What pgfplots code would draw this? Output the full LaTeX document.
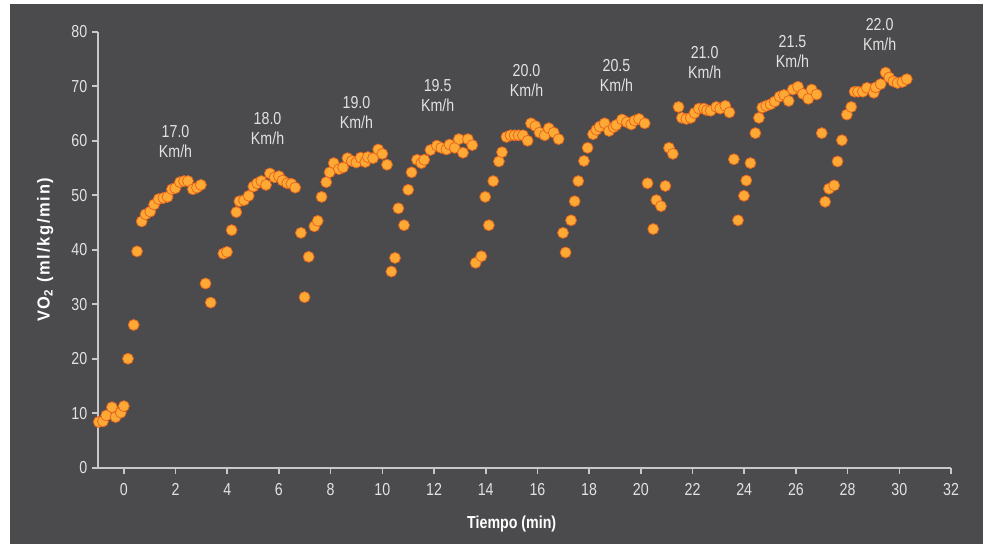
\documentclass[border=0pt]{standalone}
\usepackage{fontspec}
\setmainfont{Liberation Sans}[FakeStretch=0.82]
\newfontfamily\ylabfont{Liberation Sans}[FakeStretch=0.95, LetterSpace=10]
\usepackage{pgfplots}
\pgfplotsset{compat=1.18}

\definecolor{bg}{HTML}{4B4B4D}
\definecolor{axisgray}{HTML}{C8C8C8}
\definecolor{txt}{HTML}{E2E2E2}
\definecolor{dotfill}{HTML}{FCAA35}
\definecolor{dotedge}{HTML}{E8661E}

\pgfplotstableread{
t vo2
-0.97 8.4
-0.81 8.5
-0.68 9.6
-0.46 11.1
-0.32 9.3
-0.12 10.1
0.00 11.3
0.16 20.0
0.38 26.2
0.51 39.7
0.69 45.2
0.84 46.5
1.02 47.0
1.17 48.3
1.35 49.3
1.53 49.5
1.69 49.7
1.86 51.1
1.99 51.3
2.17 52.4
2.33 52.6
2.48 52.6
2.67 51.1
2.83 51.4
2.98 51.9
3.16 33.8
3.36 30.3
3.85 39.3
3.99 39.6
4.17 43.6
4.35 46.9
4.47 48.9
4.65 49.1
4.83 49.9
5.01 51.6
5.16 52.2
5.32 52.6
5.50 51.9
5.65 54.0
5.83 53.3
6.00 53.5
6.14 52.7
6.32 52.2
6.48 52.1
6.63 51.4
6.85 43.1
6.99 31.3
7.15 38.7
7.37 44.3
7.50 45.3
7.65 49.7
7.83 52.4
7.96 54.2
8.12 55.9
8.32 54.8
8.48 55.1
8.65 56.8
8.82 56.3
8.99 56.0
9.16 56.9
9.34 56.1
9.44 57.0
9.64 56.8
9.84 58.4
10.00 57.6
10.18 55.6
10.35 36.0
10.49 38.5
10.62 47.6
10.84 44.5
11.00 51.0
11.13 54.2
11.34 56.5
11.51 55.9
11.62 56.5
11.86 58.3
12.11 59.1
12.28 58.7
12.48 58.4
12.60 59.3
12.80 58.7
12.96 60.3
13.12 57.8
13.31 60.3
13.48 59.2
13.61 37.6
13.83 38.8
13.98 49.7
14.12 44.5
14.29 52.6
14.51 56.2
14.63 57.9
14.80 60.7
14.96 61.0
15.12 61.0
15.27 61.0
15.44 61.0
15.62 60.0
15.75 63.2
15.92 62.7
16.08 61.5
16.28 61.0
16.44 62.3
16.63 61.5
16.82 60.3
16.99 43.1
17.09 39.5
17.30 45.4
17.44 48.9
17.58 52.6
17.80 56.3
17.94 58.7
18.15 61.2
18.28 62.0
18.41 62.6
18.60 63.2
18.77 61.8
18.95 62.5
19.05 62.9
19.27 63.9
19.46 63.4
19.63 63.0
19.76 63.7
19.93 64.0
20.15 63.2
20.26 52.2
20.48 43.8
20.60 49.1
20.78 48.0
20.95 51.7
21.09 58.7
21.24 57.6
21.46 66.2
21.59 64.2
21.76 64.0
21.93 64.2
22.08 65.1
22.25 65.9
22.44 65.9
22.56 65.6
22.70 65.5
22.92 66.2
23.07 65.9
23.27 66.4
23.43 65.2
23.60 56.6
23.76 45.4
23.99 49.9
24.08 52.7
24.24 55.9
24.43 61.4
24.57 64.2
24.70 66.1
24.85 66.4
25.02 66.7
25.18 67.2
25.37 68.1
25.54 68.4
25.72 67.3
25.88 69.4
26.08 69.9
26.27 68.6
26.48 67.7
26.61 69.4
26.80 68.5
27.00 61.4
27.13 48.8
27.28 51.2
27.48 51.8
27.61 56.2
27.78 60.1
27.97 64.8
28.14 66.2
28.27 69.0
28.40 69.0
28.59 69.0
28.75 69.7
29.01 68.8
29.09 69.8
29.28 70.4
29.47 72.5
29.61 71.6
29.77 70.9
29.93 70.6
30.12 70.8
30.29 71.3
}\vodata

\begin{document}
\begin{tikzpicture}
% background panel, 986x544 px at 0.75pt per px
\fill[white] (0pt,0pt) rectangle (739.5pt,408pt);
\fill[bg] (7.5pt,0pt) rectangle (737.25pt,405pt);
\begin{axis}[
    at={(73.5pt,57.2pt)}, anchor=south west,
    scale only axis,
    width=639.75pt, height=327pt,
    xmin=-1, xmax=32, ymin=0, ymax=80,
    xtick={0,2,...,32}, ytick={0,10,...,80},
    axis lines=left,
    axis line style={-, axisgray, line width=1.5pt},
    x axis line style={shorten <=-4pt},
    tick style={axisgray, line width=1.2pt},
    tick align=outside,
    major tick length=4.5pt,
    /pgf/number format/assume math mode=true,
    ticklabel style={text=txt, font=\fontsize{13}{15}\selectfont},
    xticklabel style={yshift=-4pt},
    xlabel={Tiempo (min)},
    ylabel={\ylabfont VO\textsubscript{2} (ml/kg/min)},
    label style={text=white, font=\bfseries\fontsize{13}{15}\selectfont},
    xlabel style={at={(axis description cs:0.485,-0.128)}, anchor=center},
    ylabel style={at={(axis description cs:-0.062,0.5)}, anchor=center},
    clip=false,
]
\addplot[only marks, mark=*, mark size=4.1pt,
    mark options={fill=dotfill, draw=dotedge, line width=0.6pt}]
    table[x=t, y=vo2] {\vodata};

\begin{scope}[every node/.style={align=center, text=txt,
    font=\fontsize{13}{15}\selectfont}]
\node at (axis cs:2.00,59.8) {17.0\\Km/h};
\node at (axis cs:5.56,62.3) {18.0\\Km/h};
\node at (axis cs:9.00,65.2) {19.0\\Km/h};
\node at (axis cs:12.14,68.3) {19.5\\Km/h};
\node at (axis cs:15.58,71.0) {20.0\\Km/h};
\node at (axis cs:19.06,71.9) {20.5\\Km/h};
\node at (axis cs:22.47,74.3) {21.0\\Km/h};
\node at (axis cs:25.87,76.3) {21.5\\Km/h};
\node at (axis cs:29.24,79.5) {22.0\\Km/h};
\end{scope}
\end{axis}
\end{tikzpicture}
\end{document}
